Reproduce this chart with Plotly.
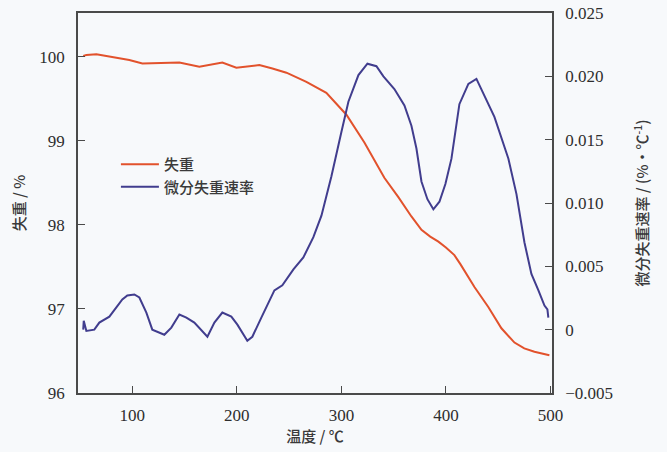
import plotly.graph_objects as go

# TG curve (weight loss, %)
tg_temp = [53, 56, 65.6, 80.9, 97.1, 109.6, 128.7, 145, 164.1, 186.1, 199.5, 221.5, 234,
           247.4, 266.5, 285.6, 304.8, 322, 341.1, 354.5, 367, 376.6, 385, 392.8, 400,
           408.1, 414, 427.3, 440.7, 453.1, 465.6, 475, 484.7, 499]
tg_val = [100.01, 100.02, 100.03, 100.0, 99.96, 99.92, 99.93, 99.93, 99.88, 99.93, 99.87,
          99.9, 99.86, 99.81, 99.70, 99.57, 99.31, 98.98, 98.56, 98.33, 98.10, 97.94, 97.86,
          97.80, 97.73, 97.64, 97.53, 97.26, 97.02, 96.77, 96.60, 96.53, 96.49, 96.45]

# DTG curve (weight-loss rate, %/°C)
dtg_temp = [53, 53.5, 56, 63.6, 68.4, 78, 90.4, 95.2, 101.9, 106.7, 113.4, 119.1, 130.6,
            137.3, 145, 151.7, 159.3, 167, 171.8, 178.5, 186.1, 194.7, 200.5, 210, 214.8,
            223.4, 235.9, 243.5, 254.1, 263.6, 273.2, 280.9, 290.4, 300, 306.7, 316.3,
            324.9, 333.5, 340.2, 350.7, 360.3, 367, 371.8, 376.6, 382.3, 388, 393.8, 399.5,
            405.3, 412.9, 421.5, 429.2, 436.8, 446.4, 459.8, 467.5, 475.1, 481.8, 488.5,
            494.3, 497.1, 498]
dtg_val = [0.0, 0.0007, -0.0001, 0.0, 0.00056, 0.00103, 0.00238, 0.0027, 0.00278, 0.00254,
           0.00135, 0.0, -0.0004, 0.00016, 0.00119, 0.00095, 0.00056, -0.00016, -0.00056,
           0.00056, 0.00135, 0.00103, 0.0004, -0.00087, -0.00056, 0.00095, 0.0031, 0.0035,
           0.00476, 0.0057, 0.0073, 0.009, 0.0121, 0.0156, 0.018, 0.0201, 0.021, 0.0208,
           0.020, 0.019, 0.0177, 0.0161, 0.0143, 0.0117, 0.0103, 0.0095, 0.0101, 0.0115,
           0.0135, 0.0178, 0.0194, 0.0198, 0.0185, 0.0168, 0.0135, 0.0107, 0.0069, 0.0044,
           0.0031, 0.0019, 0.0016, 0.00095]

x_ticks = [100, 200, 300, 400, 500]
y1_ticks = [96, 97, 98, 99, 100]
y2_ticks = [-0.005, 0, 0.005, 0.010, 0.015, 0.020, 0.025]
y2_labels = ["\u22120.005", "0", "0.005", "0.010", "0.015", "0.020", "0.025"]

RED = "#e2522c"
BLUE = "#413d8e"
BG = "#f7f9fb"
AX = "#4a4a4a"
TICKFONT = dict(family="Liberation Serif", size=17, color="#2e2e2e")
CJK = dict(family="Noto Sans CJK SC", size=15, color="#3a3a3a", weight=500)

fig = go.Figure()
fig.add_trace(go.Scatter(x=tg_temp, y=tg_val, mode="lines", name="失重",
                         line=dict(color=RED, width=2), yaxis="y"))
fig.add_trace(go.Scatter(x=dtg_temp, y=dtg_val, mode="lines", name="微分失重速率",
                         line=dict(color=BLUE, width=2), yaxis="y2"))

fig.update_layout(
    width=667, height=452,
    margin=dict(l=78, r=115, t=13, b=59),
    paper_bgcolor=BG, plot_bgcolor=BG,
    showlegend=True,
    legend=dict(x=0.08, y=0.645, xanchor="left", yanchor="top",
                bgcolor="rgba(0,0,0,0)", font=CJK, tracegroupgap=0,
                itemwidth=38),
    xaxis=dict(range=[48, 501.5], tickvals=x_ticks, ticks="inside", ticklen=7,
               tickcolor=AX, showline=True, linecolor=AX, linewidth=1.5,
               mirror=True, showgrid=False, zeroline=False, tickfont=TICKFONT,
               ticklabelstandoff=6, automargin=False,
               title=dict(text="温度 / ℃", font=CJK, standoff=6)),
    yaxis=dict(range=[96, 100.52], tickvals=y1_ticks, ticks="inside", ticklen=7,
               tickcolor=AX, showline=True, linecolor=AX, linewidth=1.5,
               showgrid=False, zeroline=False, tickfont=TICKFONT,
               ticklabelstandoff=8, automargin=False,
               title=dict(text="失重 / %", font=CJK, standoff=10)),
    yaxis2=dict(range=[-0.005, 0.025], tickvals=y2_ticks, ticktext=y2_labels,
                overlaying="y", side="right", ticks="inside", ticklen=7,
                tickcolor=AX, showline=True, linecolor=AX, linewidth=1.5,
                showgrid=False, zeroline=False, tickfont=TICKFONT,
                ticklabelstandoff=8, automargin=False,
                title=dict(text="微分失重速率 / (%·℃<sup>-1</sup>)", font=CJK, standoff=26)),
)

fig.write_html("out.html", config={"displayModeBar": False},
               post_script="document.body.style.margin='0px';")
